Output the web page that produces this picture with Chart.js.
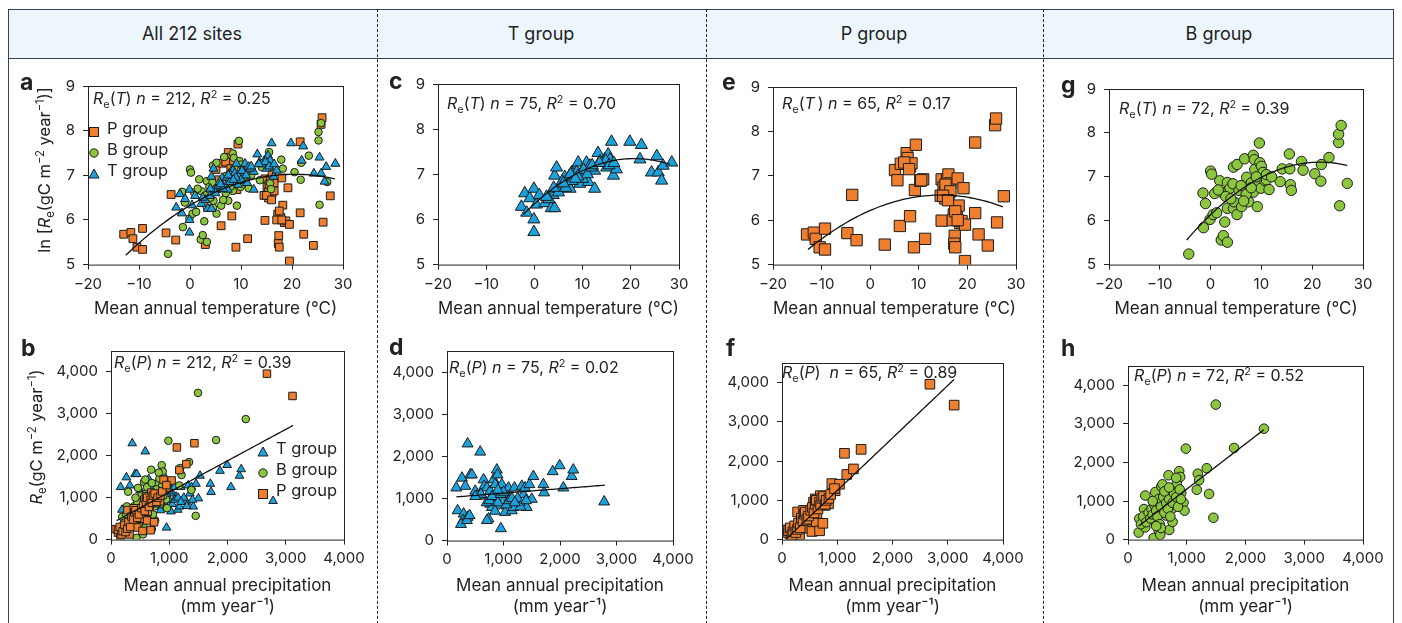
<!DOCTYPE html>
<html>
<head>
<meta charset="utf-8">
<script src="https://cdn.jsdelivr.net/npm/chart.js@4.4.0/dist/chart.umd.min.js"></script>
<style>
body{margin:0;width:1402px;height:623px;overflow:hidden;background:#fff;font-family:Inter,sans-serif;color:#222;position:relative}
.abs{position:absolute}
canvas{position:absolute}
#frame{left:8px;top:9px;width:1386px;height:650px;border:1.5px solid #33415e;box-sizing:border-box}
#head{left:8px;top:9px;width:1386px;height:50px;background:#eef6fd;border:1.5px solid #33415e;box-sizing:border-box}
.ht{top:9px;height:50px;line-height:50px;font-size:18px;text-align:center;width:300px;margin-left:-150px}
.sep{top:9px;height:640px;border-left:1.5px dashed #222}
.lab{font-weight:700;font-size:23px;line-height:23px}
.note{font-size:16px;white-space:nowrap;line-height:20px}
.leg{font-size:16.5px;white-space:nowrap;line-height:20px}
sub,sup{font-size:0.68em;line-height:0}
.ytl{font-size:16.5px;white-space:nowrap;line-height:20px;transform:translate(-50%,-50%) rotate(-90deg)}
</style>
</head>
<body>
<div id="frame" class="abs"></div>
<div id="head" class="abs"></div>
<div class="abs ht" style="left:192px">All 212 sites</div>
<div class="abs ht" style="left:541px">T group</div>
<div class="abs ht" style="left:874px">P group</div>
<div class="abs ht" style="left:1219px">B group</div>
<div class="abs sep" style="left:377px"></div>
<div class="abs sep" style="left:706px"></div>
<div class="abs sep" style="left:1043px"></div>
<script>
// T group: temperature (°C) vs ln Re, precipitation (mm) vs Re
const tempT = [-2.7,-2.0,-1.6,-0.96,-0.1,-0.1,-0.1,0.4,1.0,2.2,3.5,3.9,4.2,4.6,4.2,4.9,5.6,6.3,7.0,7.4,7.7,8.4,8.7,9.4,9.1,9.8,10.5,10.8,11.2,11.5,12.5,12.5,13.2,13.6,14.6,15.0,15.3,15.7,16.0,16.4,17.0,19.8,22.2,21.9,24.3,25.4,25.7,26.4,26.7,28.5,
  3.0,5.0,5.8,6.5,7.2,7.8,8.0,8.8,9.5,10.0,10.2,11.0,11.8,14.0,14.8,15.5,2.5,6.0,7.5,9.0,12.0,13.5,16.5,4.0,8.5];
const lnReT = [6.28,6.58,6.15,6.47,6.68,6.0,5.72,6.33,6.54,6.36,6.25,6.54,6.97,7.15,6.25,6.68,6.76,6.94,6.76,6.68,7.04,7.11,6.9,6.79,7.26,6.97,7.04,7.26,6.83,7.19,7.08,6.68,7.47,7.29,7.33,7.15,7.44,7.33,7.72,6.97,7.11,7.72,7.65,7.33,7.04,7.40,7.04,6.86,7.19,7.26,
  6.45,6.6,6.85,6.7,6.95,6.85,7.0,7.05,7.0,6.9,7.1,7.0,7.15,7.25,7.3,7.2,6.5,6.8,7.0,6.95,7.2,7.25,7.25,6.7,6.9];
const precT = [165,265,324,365,412,441,188,294,282,247,365,353,400,588,500,529,588,647,659,706,765,735,706,765,794,824,853,882,894,912,853,941,953,971,1000,1029,1059,1088,1118,1147,1176,1194,1294,1324,1353,1382,1412,1459,1500,1529,1706,1718,1871,1994,2059,2206,2235,2782,
  700,750,800,900,950,1050,1100,1150,1250,1300,850,600,500,1000,1200,1400,900];
const reT = [1253,1486,1292,2298,1563,1563,712,634,480,387,557,480,596,2104,1176,1060,1060,1447,1292,1253,1176,518,480,867,789,1447,1331,1679,1563,1099,1021,828,286,1331,944,673,1099,1253,1021,712,789,1253,905,1292,1099,1253,789,1331,983,1524,1331,1137,1640,1780,1253,1524,1679,921,
  900,950,1050,900,1100,850,950,1000,1000,800,700,1100,1050,1150,900,950,1200];

// P group
const tempP = [-13.0,-11.6,-11.2,-10.4,-9.3,-9.3,-4.7,-3.7,-2.8,3.0,5.1,5.6,6.3,6.1,7.5,7.7,8.2,8.5,8.2,9.0,9.4,9.2,10.3,10.9,11.3,14.7,15.1,14.7,15.4,15.8,16.1,16.5,16.1,15.4,17.2,17.4,17.3,17.5,17.8,18.2,18.0,18.5,18.8,19.2,19.5,19.5,21.6,21.6,22.3,24.2,25.7,25.9,26.1,27.5,
  14.5,15.5,16.5,15.0,17.0,7.0,8.0,16.0,10.5,17.5,18.0];
const lnReP = [5.68,5.72,5.58,5.39,5.81,5.34,5.71,6.57,5.55,5.45,7.13,6.90,7.27,5.87,7.51,7.40,7.21,7.28,6.09,5.39,7.70,6.68,6.89,6.92,5.58,6.92,6.74,5.99,6.49,6.92,7.03,6.83,6.59,6.63,6.13,5.65,5.47,5.39,6.06,6.33,6.94,5.94,5.98,6.72,5.90,5.08,7.75,6.16,5.68,5.43,8.14,8.29,5.95,6.54,
  6.55,6.8,6.65,6.55,6.0,7.3,7.15,6.45,6.9,6.2,6.0];
const precP = [78,120,162,211,259,283,301,319,361,391,421,451,511,541,571,602,620,632,644,680,692,722,740,782,812,842,902,962,1041,1131,1173,1293,1432,2677,3116,
  120,150,180,200,230,250,280,300,330,350,380,400,420,450,480,520,550,580,600,620,650,680,700,720,750,780,800,850,880,950];
const reP = [249,166,83,290,166,705,332,124,498,747,398,290,498,207,954,1037,456,664,913,224,1120,996,415,871,996,913,1427,1245,1411,2199,1660,1801,2299,3959,3427,
  230,300,120,200,350,180,260,420,300,550,480,650,700,520,600,750,820,680,900,1000,780,950,880,1050,1100,900,1000,1050,1150,1300];

// B group
const tempB = [-4.3,-1.4,-1.5,-1.0,-0.1,0.0,0.2,0.5,0.8,1.2,1.8,2.3,2.1,2.5,2.8,3.3,3.3,3.3,3.8,4.4,4.5,4.5,4.6,5.2,5.2,5.6,6.1,6.7,7.1,7.5,8.0,8.4,8.4,8.6,8.7,9.2,9.4,9.6,9.7,9.9,10.0,10.3,10.7,11.0,11.5,13.7,14.1,15.5,15.6,15.7,15.9,17.9,18.2,20.5,21.7,21.8,23.3,25.2,25.2,25.7,25.4,26.9,
  1.5,3.0,4.0,6.0,7.0,8.0,9.0,11.0,12.0,6.5];
const lnReB = [5.24,5.84,6.63,6.39,6.03,7.13,7.06,6.14,6.62,6.18,6.91,6.64,5.56,5.66,5.97,5.51,6.87,6.28,6.74,6.84,7.22,6.28,6.43,7.28,6.14,6.69,6.32,7.41,6.99,6.43,6.86,7.49,6.65,7.39,7.17,6.32,6.91,7.77,7.32,6.74,7.24,7.10,6.91,6.93,6.71,6.89,7.18,7.52,7.18,6.82,6.69,7.35,7.15,7.07,6.90,7.28,7.44,7.78,7.97,8.17,6.34,6.85,
  6.7,6.55,6.5,6.8,6.6,6.75,7.0,7.05,7.0,6.45];
const precB = [181,192,294,272,294,436,464,436,464,509,520,549,566,588,549,588,622,645,690,702,736,758,747,803,832,871,888,860,905,945,962,985,1171,1188,1211,1341,1380,1454,1494,1805,2314,
  220,260,310,350,380,400,420,450,480,500,520,540,560,600,620,650,680,700,720,760,780,820,850,880,900,620,560,480,700,820,420];
const reB = [183,542,317,792,1142,500,1233,42,517,917,250,125,1375,1433,667,1000,833,625,1667,250,1125,458,792,1333,1458,1775,1625,1000,1208,958,750,2358,1292,1708,1542,1850,1183,567,3500,2375,2875,
  400,600,450,700,550,800,650,900,750,600,1050,400,850,1100,700,950,800,1050,600,950,1200,1100,850,1300,1050,1250,300,350,1350,1600,1000];

// tick values
const tempTicks = [-20, -10, 0, 10, 20, 30];
const lnReTicks = [5, 6, 7, 8, 9];
const precTicks = [0, 1000, 2000, 3000, 4000];
const reTicks = [0, 1000, 2000, 3000, 4000];

// fitted curves: [xStart, xEnd, a, b, c]  (y = a + b x + c x^2)
const fitAllT = [-12.6, 28.4, 6.327, 0.06782, -0.001653];
const fitTT = [-2.3, 28.1, 6.345, 0.09688, -0.00234];
const fitPT = [-12.8, 27.3, 6.2185, 0.04768, -0.001637];
const fitBT = [-4.7, 26.9, 6.138, 0.1109, -0.002573];
const fitAllP = [97, 3126, 380, 0.75, 0];
const fitTP = [165, 2794, 1020, 0.1057, 0];
const fitPP = [78, 3116, -87, 1.338, 0];
const fitBP = [181, 2314, 138, 1.172, 0];

const COL = {P: '#ef7f2e', B: '#8cc63f', T: '#1ba1dc'};
const EDGE = '#1c1c1c';
Chart.defaults.font.family = 'Inter';
Chart.defaults.color = '#222';

function pts(xs, ys) { return xs.map((x, i) => ({x: x, y: ys[i]})); }
function marks(xs, ys, col, style, r) {
  return {data: pts(xs, ys), backgroundColor: col, borderColor: EDGE, borderWidth: 1,
    pointStyle: style, pointRadius: r, pointHoverRadius: r, showLine: false};
}
function fitLine(f) {
  const d = [];
  for (let i = 0; i <= 60; i++) {
    const x = f[0] + (f[1] - f[0]) * i / 60;
    d.push({x: x, y: f[2] + f[3] * x + f[4] * x * x});
  }
  return {data: d, showLine: true, pointRadius: 0, borderColor: '#111', borderWidth: 1.3, fill: false};
}

const boxPlugin = {
  id: 'box',
  afterDraw(c) {
    const a = c.chartArea, ctx = c.ctx;
    ctx.save();
    ctx.strokeStyle = '#222';
    ctx.lineWidth = 1;
    ctx.strokeRect(a.left + 0.5, a.top + 0.5, a.right - a.left, a.bottom - a.top);
    ctx.restore();
  }
};

function fixTicks(vals) { return s => { s.ticks = vals.map(v => ({value: v})); }; }

function panel(box, kind, datasets) {
  const [l, t, r, b] = box;
  const isT = kind === 'T';
  const bottom = isT ? 320.4 : 618.4;
  const xh = bottom - b;
  const cv = document.createElement('canvas');
  const w = r - l + 60 + 26, h = Math.round(bottom - t + 12);
  cv.width = w; cv.height = h;
  cv.style.left = (l - 60) + 'px';
  cv.style.top = (t - 12) + 'px';
  document.body.appendChild(cv);
  new Chart(cv, {
    type: 'scatter',
    data: {datasets: datasets},
    options: {
      responsive: false, animation: false, events: [],
      layout: {padding: {left: 0, top: 12, right: 26, bottom: 0}},
      plugins: {legend: {display: false}, tooltip: {enabled: false}},
      scales: {
        x: {
          type: 'linear', min: isT ? -20 : 0, max: isT ? 30 : 4000,
          afterFit(s) { s.height = xh; },
          afterBuildTicks: fixTicks(isT ? tempTicks : precTicks),
          border: {display: false},
          grid: {drawOnChartArea: false, drawTicks: true, tickLength: 5, color: '#222'},
          ticks: {padding: isT ? 6 : 5, maxRotation: 0, font: {size: 15}, color: '#222',
            callback: v => isT ? (v < 0 ? '\u2212' + Math.abs(v) : String(v)) : v.toLocaleString('en-US')},
          title: {display: true, padding: 0, color: '#222', font: {size: 17, lineHeight: 1.25},
            text: isT ? 'Mean annual temperature (°C)' : ['Mean annual precipitation', '(mm year\u207B\u00B9)']}
        },
        y: {
          type: 'linear', min: isT ? 5 : 0, max: isT ? 9 : 4500,
          afterFit(s) { s.width = 60; },
          afterBuildTicks: fixTicks(isT ? lnReTicks : reTicks),
          border: {display: false},
          grid: {drawOnChartArea: false, drawTicks: true, tickLength: 5, color: '#222'},
          ticks: {padding: 8, font: {size: 15}, color: '#222',
            callback: v => isT ? String(v) : v.toLocaleString('en-US')}
        }
      }
    },
    plugins: [boxPlugin]
  });
}

function html(cls, x, y, inner) {
  const d = document.createElement('div');
  d.className = 'abs ' + cls;
  d.style.left = x + 'px'; d.style.top = y + 'px';
  d.innerHTML = inner;
  document.body.appendChild(d);
  return d;
}

const RE = '<i>R</i><sub>e</sub>';
function stat(v, n, r2, gap) { return RE + '(<i>' + v + '</i>' + (gap || '') + ') ' + '<i>n</i> = ' + n + ', <i>R</i><sup>2</sup> = ' + r2; }

// top row: temperature
panel([88, 81, 343, 265], 'T', [fitLine(fitAllT), marks(tempT, lnReT, COL.T, 'triangle', 5.2), marks(tempB, lnReB, COL.B, 'circle', 3.8), marks(tempP, lnReP, COL.P, 'rect', 5.5)]);
panel([438, 79, 679, 265], 'T', [fitLine(fitTT), marks(tempT, lnReT, COL.T, 'triangle', 7)]);
panel([773, 82, 1016, 265], 'T', [fitLine(fitPT), marks(tempP, lnReP, COL.P, 'rect', 8)]);
panel([1109, 84, 1363, 265], 'T', [fitLine(fitBT), marks(tempB, lnReB, COL.B, 'circle', 5.2)]);
// bottom row: precipitation
panel([111, 346, 344, 540], 'P', [fitLine(fitAllP), marks(precP, reP, COL.P, 'rect', 5.3), marks(precB, reB, COL.B, 'circle', 3.8), marks(precT, reT, COL.T, 'triangle', 5)]);
panel([447, 346, 673, 541], 'P', [fitLine(fitTP), marks(precT, reT, COL.T, 'triangle', 6.3)]);
panel([782, 358, 1003, 540], 'P', [fitLine(fitPP), marks(precP, reP, COL.P, 'rect', 6.8)]);
panel([1128, 361, 1363, 540], 'P', [fitLine(fitBP), marks(precB, reB, COL.B, 'circle', 4.8)]);

// panel letters
[['a', 20, 71], ['b', 21, 337], ['c', 389, 70], ['d', 389, 336], ['e', 722, 71], ['f', 726, 337], ['g', 1061, 74], ['h', 1061, 337]]
  .forEach(p => html('lab', p[1], p[2], p[0]));

// statistics
html('note', 93, 88, stat('T', 212, '0.25'));
html('note', 447, 93, stat('T', 75, '0.70'));
html('note', 782, 93, stat('T', 65, '0.17', '\u2009'));
html('note', 1119, 98, stat('T', 72, '0.39'));
html('note', 114, 352, stat('P', 212, '0.39'));
html('note', 449, 357, stat('P', 75, '0.02'));
html('note', 782, 362, RE + '(<i>P</i>)&nbsp; <i>n</i> = 65, <i>R</i><sup>2</sup> = 0.89');
html('note', 1134, 365, stat('P', 72, '0.52'));

// y axis titles
html('ytl', 44, 170, 'ln [' + RE + '(gC m<sup>\u22122</sup> year<sup>\u22121</sup>)]');
html('ytl', 36, 437, RE + '(gC m<sup>\u22122</sup> year<sup>\u22121</sup>)');

// legends
const SHAPE = {
  P: '<svg width="12" height="12"><rect x="1.5" y="1.5" width="9" height="9" fill="' + COL.P + '" stroke="' + EDGE + '"/></svg>',
  B: '<svg width="12" height="12"><circle cx="6" cy="6" r="4.2" fill="' + COL.B + '" stroke="' + EDGE + '"/></svg>',
  T: '<svg width="12" height="12"><polygon points="6,1 11,10 1,10" fill="' + COL.T + '" stroke="' + EDGE + '"/></svg>'
};
function legend(x, y, order) {
  order.forEach((k, i) => {
    html('', x - 6, y + i * 21 - 6, SHAPE[k]);
    html('leg', x + 13, y + i * 21 - 10, k + ' group');
  });
}
legend(94, 128, ['P', 'B', 'T']);
legend(263, 448, ['T', 'B', 'P']);
</script>
</body>
</html>
